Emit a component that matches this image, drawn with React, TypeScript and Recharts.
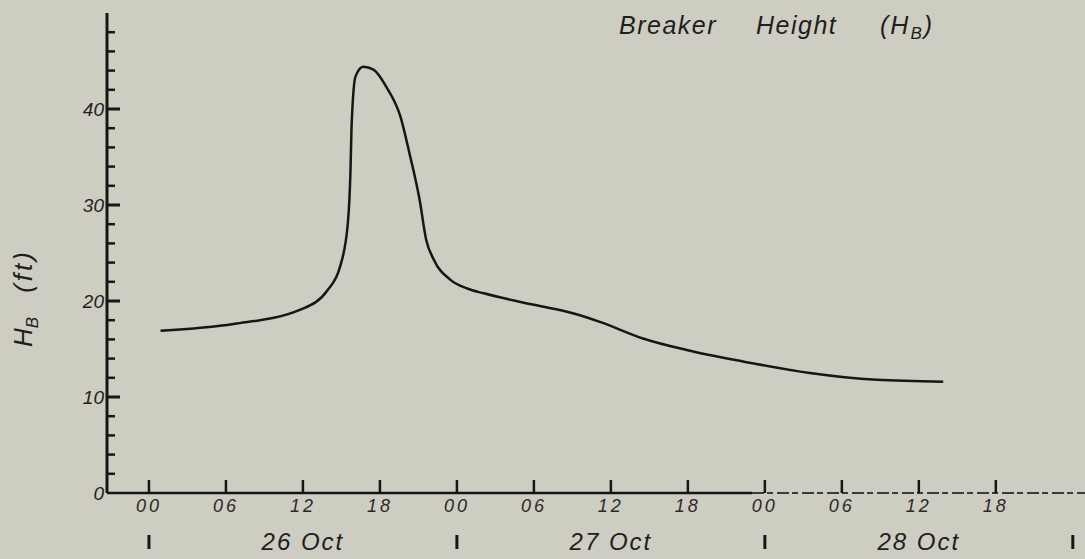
import React from "react";
import {
  Customized,
  Line,
  LineChart,
  ReferenceLine,
  XAxis,
  YAxis,
} from "recharts";

// hours since 00 on 26 Oct
const hours = [
  0.9, 6.6, 11.8, 13.9, 14.9, 15.5, 15.7, 15.8, 16.1, 16.7, 17.5, 18.5, 19.6,
  20.3, 21.1, 21.6, 22.2, 23.5, 24.8, 26.1, 30, 33.1, 35.2, 38.5, 41.9, 46.3,
  51.5, 56.7, 61.9,
];
// breaker height (ft)
const heights = [
  16.9, 17.6, 19.1, 21.1, 23.6, 28.1, 33.3, 38.5, 43.4, 44.4, 44.1, 42.3, 39.2,
  35.4, 30.5, 26.4, 24.3, 22.2, 21.3, 20.8, 19.6, 18.7, 17.8, 16.1, 14.9,
  13.7, 12.5, 11.8, 11.6,
];

const hourTicks = [0, 6, 12, 18, 24, 30, 36, 42, 48, 54, 60, 66, 72];
const hourLabels = ["00", "06", "12", "18", "00", "06", "12", "18", "00", "06", "12", "18", ""];
const dateLabels = ["26 Oct", "27 Oct", "28 Oct"];
const yTicks = [0, 2, 4, 6, 8, 10, 12, 14, 16, 18, 20, 22, 24, 26, 28, 30, 32, 34, 36, 38, 40, 42, 44, 46, 48];
const yLabels = [0, 10, 20, 30, 40];

const data = hours.map((h, i) => ({ h, hb: heights[i] }));

const INK = "#161616";
const FONT = "'Liberation Sans', sans-serif";

const HourTick = (props: any) => {
  const { x, y, payload } = props;
  const v = payload.value;
  const idx = hourTicks.indexOf(v);
  const day = Math.floor(v / 24);
  return (
    <g>
      {v <= 66 && (
        <>
          <line x1={x} x2={x} y1={y - 13} y2={y} stroke={INK} strokeWidth={2.5} />
          <text x={x} y={y + 19} textAnchor="middle" fontSize={18} fontStyle="italic" fontFamily={FONT} fill="#2a2a2a" letterSpacing={3}>
            {hourLabels[idx]}
          </text>
        </>
      )}
      {v % 24 === 0 && (
        <line x1={x} x2={x} y1={y + 42} y2={y + 56} stroke={INK} strokeWidth={3} />
      )}
      {v % 24 === 12 && dateLabels[day] && (
        <text x={x} y={y + 57} textAnchor="middle" fontSize={24} fontStyle="italic" fontFamily={FONT} fill="#1e1e1e" letterSpacing={2}>
          {dateLabels[day]}
        </text>
      )}
    </g>
  );
};

const HeightTick = (props: any) => {
  const { x, y, payload } = props;
  const v = payload.value;
  const major = v % 10 === 0;
  return (
    <g>
      {v > 0 && (
        <line x1={x} x2={x + (major ? 13 : 8)} y1={y} y2={y} stroke={INK} strokeWidth={major ? 3 : 2.5} />
      )}
      {yLabels.includes(v) && (
        <text x={x - 3} y={y + 7} textAnchor="end" fontSize={19} fontStyle="italic" fontFamily={FONT} fill="#222">
          {v}
        </text>
      )}
    </g>
  );
};

const Titles = () => (
  <g fontFamily={FONT} fontStyle="italic" fill="#1e1e1e">
    <text x={619} y={34} fontSize={25} letterSpacing={1.5}>Breaker</text>
    <text x={756} y={34} fontSize={25} letterSpacing={1.5}>Height</text>
    <text x={880} y={34} fontSize={25} letterSpacing={2}>
      (H<tspan fontSize={17} dy={5}>B</tspan>
      <tspan dy={-5}>)</tspan>
    </text>
    <text transform="translate(32,298) rotate(-90)" textAnchor="middle" fontSize={26}>
      H<tspan fontSize={17} dy={6}>B</tspan>
      <tspan dy={-6} dx={24} letterSpacing={3}>(ft)</tspan>
    </text>
  </g>
);

export default function App() {
  return (
    <div style={{ position: "absolute", left: 0, top: 0, width: 1085, height: 559, background: "#cecdc1" }}>
      <LineChart width={1085} height={559} data={data} margin={{ top: 13, right: 0, bottom: 6, left: 0 }}>
        <XAxis
          dataKey="h"
          type="number"
          domain={[-3.27, 72.95]}
          allowDataOverflow
          ticks={hourTicks}
          interval={0}
          tick={<HourTick />}
          tickLine={false}
          tickSize={0}
          tickMargin={0}
          axisLine={false}
          height={60}
        />
        <YAxis
          type="number"
          domain={[0, 50]}
          ticks={yTicks}
          interval={0}
          tick={<HeightTick />}
          tickLine={false}
          tickSize={0}
          tickMargin={0}
          axisLine={{ stroke: INK, strokeWidth: 3 }}
          width={107}
        />
        <ReferenceLine
          segment={[{ x: -3.27, y: 0 }, { x: 47, y: 0 }]}
          stroke={INK}
          strokeWidth={2.5}
        />
        <ReferenceLine
          segment={[{ x: 47, y: 0 }, { x: 72.95, y: 0 }]}
          stroke="#3a3a3a"
          strokeWidth={2}
          strokeDasharray="12 3 6 4"
        />
        <Line
          dataKey="hb"
          type="monotone"
          stroke={INK}
          strokeWidth={2.5}
          dot={false}
          isAnimationActive={false}
        />
        <Customized component={Titles} />
      </LineChart>
    </div>
  );
}
